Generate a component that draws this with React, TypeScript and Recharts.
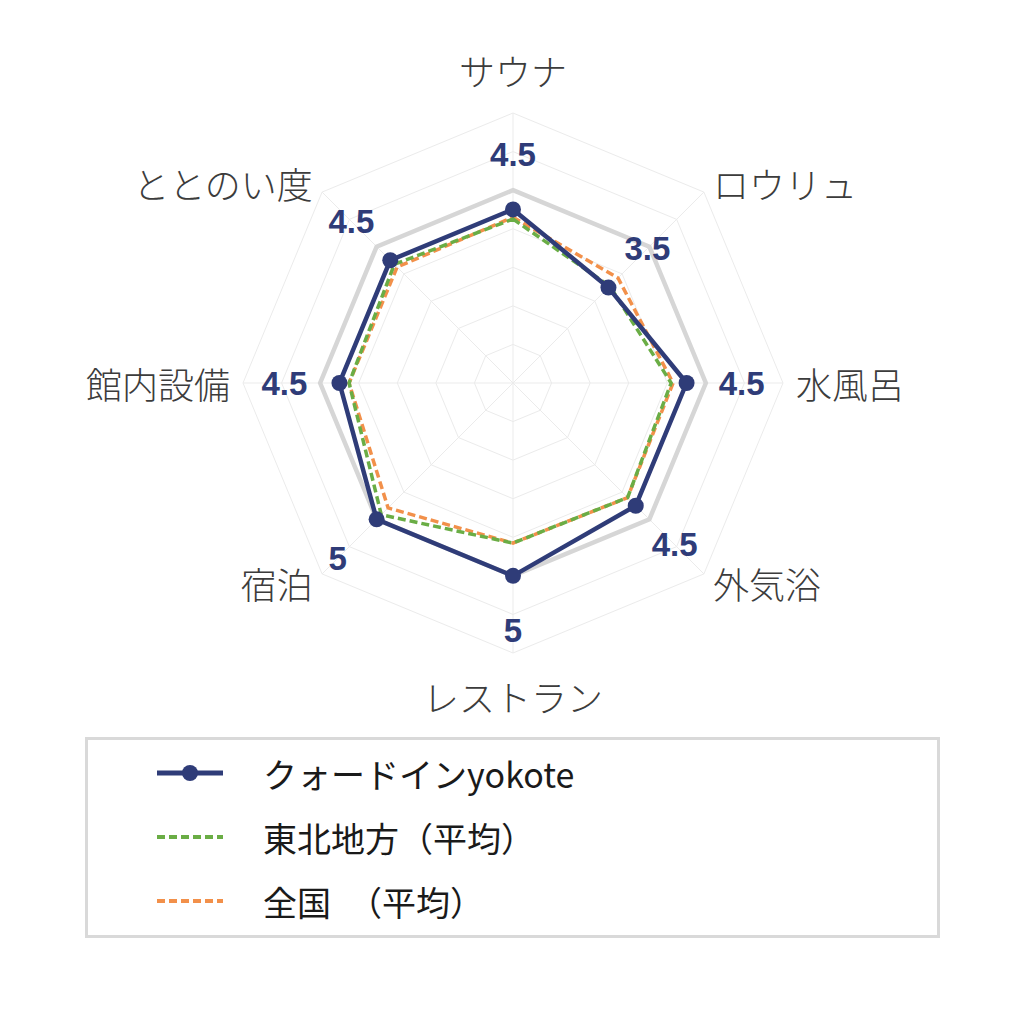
import React from "react"
import { Legend, PolarAngleAxis, PolarGrid, PolarRadiusAxis, Radar, RadarChart } from "recharts"

const categories = ["サウナ", "ロウリュ", "水風呂", "外気浴", "レストラン", "宿泊", "館内設備", "ととのい度"]
const yokote = [4.5, 3.5, 4.5, 4.5, 5, 5, 4.5, 4.5]
const tohoku = [4.25, 3.55, 4.1, 4.2, 4.15, 4.83, 4.25, 4.35]
const national = [4.3, 3.85, 4.15, 4.2, 4.15, 4.58, 4.25, 4.25]
const fullScore = [5, 5, 5, 5, 5, 5, 5, 5]

const seriesNames = {
  yokote: "クォードインyokote",
  tohoku: "東北地方（平均）",
  national: "全国　（平均）",
}

const data = categories.map((name, i) => ({
  name,
  yokote: yokote[i],
  tohoku: tohoku[i],
  national: national[i],
  full: fullScore[i],
}))

const CX = 513
const CY = 383
const NAVY = "#2f3c78"
const GREEN = "#6aad45"
const ORANGE = "#f2904a"

const legendRows = [
  { key: "yokote", color: NAVY, dash: undefined, dot: true },
  { key: "tohoku", color: GREEN, dash: "8 4", dot: false },
  { key: "national", color: ORANGE, dash: "8 4", dot: false },
]

function AngleTick(props: any) {
  const angle = (props.payload.coordinate * Math.PI) / 180
  const c = Math.cos(angle)
  const s = Math.sin(angle)
  const vertical = Math.abs(c) < 0.1
  const r = vertical ? 313 : 283
  const x = CX + r * c
  const y = CY - r * s
  const anchor = vertical ? "middle" : c > 0 ? "start" : "end"
  return (
    <text
      x={x}
      y={y}
      textAnchor={anchor}
      dominantBaseline="central"
      fontSize={36}
      fontWeight={300}
      fontFamily="'Noto Sans CJK JP', sans-serif"
      fill="#3c3c3c"
    >
      {props.payload.value}
    </text>
  )
}

function ValueDot(props: any) {
  const { cx, cy, index } = props
  const dx = cx - CX
  const dy = cy - CY
  const r = Math.sqrt(dx * dx + dy * dy)
  const k = (r + 55) / r
  const value = props.payload?.value ?? yokote[index]
  return (
    <g key={`dot-${index}`}>
      <circle cx={cx} cy={cy} r={8} fill={NAVY} stroke="none" />
      <text
        x={CX + dx * k}
        y={CY + dy * k}
        textAnchor="middle"
        dominantBaseline="central"
        fontSize={33}
        fontWeight="bold"
        fontFamily="'Liberation Sans', Arial, sans-serif"
        fill={NAVY}
      >
        {value}
      </text>
    </g>
  )
}

function LegendBox() {
  return (
    <div
      style={{
        boxSizing: "border-box",
        width: 855,
        height: 201,
        border: "3px solid #d9d9d9",
        paddingTop: 1,
        background: "#fff",
      }}
    >
      {legendRows.map((row) => (
        <div key={row.key} style={{ height: 64, display: "flex", alignItems: "center" }}>
          <svg width={66} height={20} style={{ marginLeft: 69, marginRight: 40 }}>
            <line x1={0} y1={10} x2={66} y2={10} stroke={row.color} strokeWidth={row.dot ? 5 : 4} strokeDasharray={row.dash} />
            {row.dot && <circle cx={33} cy={10} r={8} fill={row.color} />}
          </svg>
          <span
            style={{
              fontSize: 34,
              fontFamily: "'Noto Sans CJK JP', sans-serif",
              color: "#1a1a1a",
              whiteSpace: "pre",
            }}
          >
            {seriesNames[row.key as keyof typeof seriesNames]}
          </span>
        </div>
      ))}
    </div>
  )
}

export default function App() {
  return (
    <div style={{ position: "absolute", left: 0, top: 0, width: 1024, height: 1024, background: "#fff" }}>
      <RadarChart
        width={1024}
        height={1024}
        data={data}
        cx={CX}
        cy={CY}
        outerRadius={270}
        margin={{ top: 0, right: 0, bottom: 0, left: 0 }}
      >
        <PolarGrid gridType="polygon" stroke="#ebebeb" strokeWidth={1} />
        <PolarRadiusAxis domain={[0, 7]} tickCount={8} tick={false} axisLine={false} />
        <PolarAngleAxis dataKey="name" tick={<AngleTick />} tickLine={false} axisLine={false} />
        <Radar
          dataKey="full"
          stroke="#d6d6d6"
          strokeWidth={4.5}
          fill="none"
          legendType="none"
          isAnimationActive={false}
        />
        <Radar
          name={seriesNames.national}
          dataKey="national"
          stroke={ORANGE}
          strokeWidth={3.5}
          strokeDasharray="8 4"
          fill="none"
          isAnimationActive={false}
        />
        <Radar
          name={seriesNames.tohoku}
          dataKey="tohoku"
          stroke={GREEN}
          strokeWidth={3.5}
          strokeDasharray="8 4"
          fill="none"
          isAnimationActive={false}
        />
        <Radar
          name={seriesNames.yokote}
          dataKey="yokote"
          stroke={NAVY}
          strokeWidth={4.5}
          fill="none"
          dot={(p: any) => <ValueDot {...p} />}
          isAnimationActive={false}
        />
        <Legend
          layout="horizontal"
          verticalAlign="middle"
          align="center"
          wrapperStyle={{ left: 85, top: 737, width: 855, height: 201 }}
          content={() => <LegendBox />}
        />
      </RadarChart>
    </div>
  )
}
